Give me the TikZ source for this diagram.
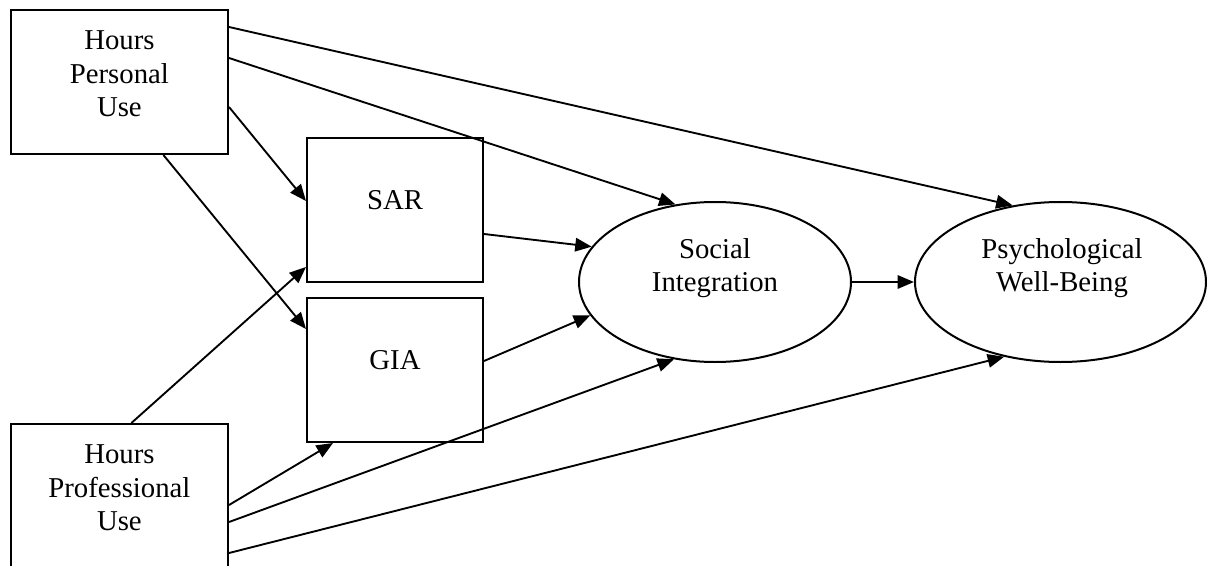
\documentclass[tikz,border=0pt]{standalone}
\usepackage{fontspec}
\setmainfont{Liberation Serif}
\usetikzlibrary{arrows.meta, shapes.geometric}

\tikzset{
  varbox/.style = {draw, line width = 0.8pt, inner sep = 0pt, minimum height = 57.6pt},
  latent/.style = {draw, ellipse, line width = 0.8pt, inner sep = 0pt, minimum height = 64pt},
  lbl/.style = {align = center, inner sep = 0pt, font = \fontsize{11.5}{13.4}\selectfont},
  path/.style = {line width = 0.75pt, -{Triangle[length = 6.6pt, width = 5.4pt]}}
}

\begin{document}
\begin{tikzpicture} [x = 0.4pt, y = -0.4pt]
\useasboundingbox (0, 0) rectangle (1207, 566);
\node[varbox, minimum width = 86.9pt] (hpu) at (119.4, 82) {};
\node[varbox, minimum width = 86.9pt] (hpro) at (119.4, 496) {};
\node[varbox, minimum width = 70.4pt] (sar) at (395, 210) {};
\node[varbox, minimum width = 70.4pt] (gia) at (395, 370) {};
\node[latent, minimum width = 108.8pt] (si) at (715, 282) {};
\node[latent, minimum width = 116.4pt] (pwb) at (1060.5, 282) {};
\node[lbl] (hpuText) at (119.4, 74) {Hours\\Personal\\Use};
\node[lbl] (hproText) at (119.4, 488) {Hours\\Professional\\Use};
\node[lbl] (sarText) at (395, 200) {SAR};
\node[lbl] (giaText) at (395, 360) {GIA};
\node[lbl] (siText) at (715, 268) {Social\\Integration};
\node[lbl] (pwbText) at (1062, 268) {Psychological\\Well-Being};
% personal use
\draw[path] ([shift = {(0, -55)}]hpu.east) -- (pwb.122);
\draw[path] ([shift = {(0, -24)}]hpu.east) -- (si.117.7);
\draw[path] ([shift = {(0, 25)}]hpu.east) -- ([shift = {(0, -9)}]sar.west);
\draw[path] ([shift = {(44, 0)}]hpu.south) -- ([shift = {(0, -41)}]gia.west);
% professional use
\draw[path] ([shift = {(12, 0)}]hpro.north) -- ([shift = {(0, 57)}]sar.west);
\draw[path] ([shift = {(0, 9)}]hpro.east) -- ([shift = {(-62, 0)}]gia.south);
\draw[path] ([shift = {(0, 26)}]hpro.east) -- (si.242.3);
\draw[path] ([shift = {(0, 57)}]hpro.east) -- (pwb.233);
% mediators
\draw[path] ([shift = {(0, 24)}]sar.east) -- (si.164.9);
\draw[path] ([shift = {(0, -9)}]gia.east) -- (si.195);
\draw[path] (si.east) -- (pwb.west);
\end{tikzpicture}
\end{document}
